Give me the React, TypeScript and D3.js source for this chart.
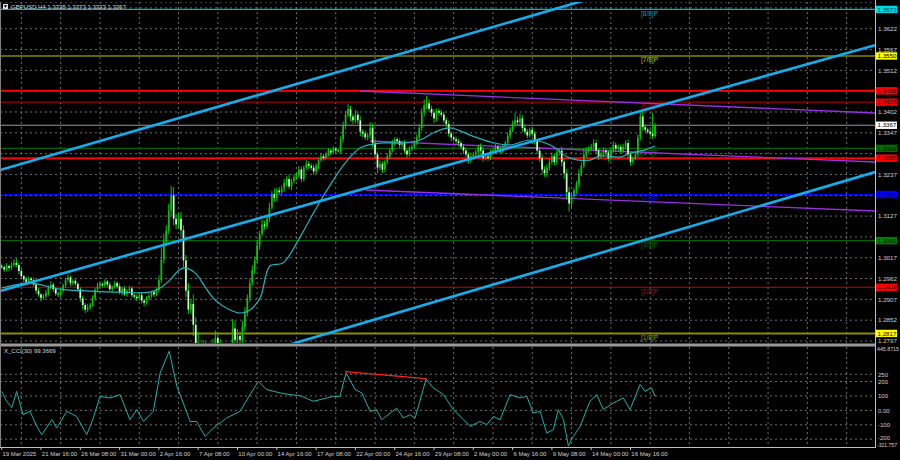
import React from "react";
import * as d3 from "d3";

const W = 900;
const H = 460;
const FONT = "'Liberation Sans', Arial, sans-serif";

const titleText = "GBPUSD,H4  1.3338 1.3373 1.3333 1.3367";
const cciTitle = "X_CCI(30) 99.3669";

const timeLabels = [
  "19 Mar 2025", "21 Mar 16:00", "26 Mar 08:00", "31 Mar 00:00", "2 Apr 16:00", "7 Apr 08:00",
  "10 Apr 00:00", "14 Apr 16:00", "17 Apr 08:00", "22 Apr 00:00", "24 Apr 16:00", "29 Apr 08:00",
  "2 May 00:00", "6 May 16:00", "9 May 08:00", "14 May 00:00", "16 May 16:00",
];
const timeLabelBars = [0, 16, 32, 48, 64, 80, 96, 112, 128, 144, 160, 176, 192, 208, 224, 240, 256];

const priceTicks = [
  1.2797, 1.2852, 1.2907, 1.2962, 1.3017, 1.3072, 1.3127, 1.3182, 1.3237, 1.3292, 1.3347,
  1.3402, 1.3457, 1.3512, 1.3567, 1.3622, 1.3677,
];

const murrayLevels = [1.3673, 1.355, 1.3428, 1.3306, 1.3184, 1.3062, 1.2939, 1.2817];
const murrayNames = ["[8/8]P", "[7/8]P", "[6/8]P", "[5/8]P", "[4/8]P", "[3/8]P", "[2/8]P", "[1/8]P"];
const redLevels = [1.3458, 1.328];
const bidPrice = 1.3367;

const cciTicks = [250, 200, 100, 0, -100, -200];
const cciTickLabels = ["250", "200", "100", "0.00", "-100", "-200"];
const cciMaxLabel = "445.8715";
const cciMinLabel = "-321.757";

const firstOpen = 1.2995;
// H4 closes, 19 Mar 2025 00:00 .. 20 May 2025 08:00
const closes = [
  1.2992, 1.2986, 1.2995, 1.299, 1.2998, 1.3003,
  1.2998, 1.2982, 1.2968, 1.296, 1.2952, 1.2962,
  1.2958, 1.2946, 1.293, 1.292, 1.2911, 1.2915,
  1.2924, 1.2938, 1.2946, 1.2934, 1.2922, 1.292,
  1.293, 1.2944, 1.2958, 1.2965, 1.295, 1.2956,
  1.2948, 1.2934, 1.291, 1.2892, 1.288, 1.2886,
  1.2893, 1.291, 1.2932, 1.2942, 1.2948, 1.2944,
  1.2954, 1.2946, 1.2934, 1.294, 1.295, 1.2941,
  1.2926, 1.2936, 1.2921, 1.293, 1.2936, 1.2918,
  1.2914, 1.291, 1.2918, 1.2904, 1.2898, 1.291,
  1.2916, 1.2926, 1.292, 1.2932, 1.2958, 1.3012,
  1.306, 1.3088, 1.3142, 1.3182, 1.312, 1.3105,
  1.312, 1.309, 1.301, 1.293, 1.288, 1.2895,
  1.284, 1.279, 1.275, 1.273, 1.2775, 1.276,
  1.274, 1.276, 1.278, 1.2805, 1.279, 1.277,
  1.276, 1.274, 1.2725, 1.276, 1.283, 1.28,
  1.281, 1.28, 1.2835, 1.287, 1.291, 1.295,
  1.2985, 1.301, 1.305, 1.308, 1.3105, 1.31,
  1.312, 1.315, 1.3185, 1.3175, 1.3195, 1.319,
  1.32, 1.3215, 1.3225, 1.3205, 1.322, 1.323,
  1.3235, 1.325, 1.3225, 1.3255, 1.3265, 1.326,
  1.3255, 1.3245, 1.326, 1.3275, 1.3285, 1.328,
  1.329, 1.33, 1.3295, 1.3305, 1.33, 1.3298,
  1.333, 1.3365, 1.3395, 1.341, 1.339, 1.338,
  1.3395, 1.338, 1.335, 1.3345, 1.3335, 1.334,
  1.336, 1.332, 1.329, 1.3255, 1.3265, 1.325,
  1.327, 1.3285, 1.33, 1.332, 1.333, 1.3325,
  1.3315, 1.332, 1.33, 1.329, 1.3305, 1.331,
  1.332, 1.3335, 1.336, 1.34, 1.342, 1.3425,
  1.341, 1.34, 1.3385, 1.3405, 1.34, 1.3395,
  1.338, 1.337, 1.3345, 1.3335, 1.333, 1.3325,
  1.332, 1.331, 1.33, 1.329, 1.3275, 1.3285,
  1.329, 1.3295, 1.331, 1.33, 1.328, 1.3285,
  1.328, 1.3295, 1.33, 1.331, 1.3305, 1.33,
  1.331, 1.332, 1.334, 1.3355, 1.337, 1.338,
  1.3375, 1.3385, 1.336, 1.335, 1.334, 1.3355,
  1.3345, 1.3325, 1.33, 1.328, 1.325, 1.324,
  1.3255, 1.327, 1.3285, 1.327, 1.3295, 1.33,
  1.327, 1.324, 1.319, 1.316, 1.318, 1.3195,
  1.321, 1.324, 1.326, 1.329, 1.33, 1.3305,
  1.331, 1.332, 1.33, 1.3285, 1.329, 1.33,
  1.3295, 1.328, 1.33, 1.3315, 1.3305, 1.331,
  1.33, 1.331, 1.332, 1.329, 1.327, 1.328,
  1.329, 1.3335, 1.339, 1.3362, 1.3355, 1.335,
  1.3345, 1.3338, 1.3367,
];
// wick lengths in pips beyond the body
const upperWicks = [
  6, 5, 8, 4, 7, 10, 12, 5, 6, 4, 7, 5, 4, 6, 5, 7, 4, 6, 8, 6, 9, 5, 4, 6,
  7, 5, 6, 8, 4, 5, 6, 4, 5, 7, 6, 8, 5, 8, 6, 9, 7, 4, 6, 5, 7, 4, 6, 5,
  8, 5, 6, 4, 7, 5, 5, 6, 4, 8, 5, 6, 5, 4, 6, 7, 12, 30, 20, 15, 18, 25, 22, 12,
  15, 18, 12, 14, 20, 10, 25, 20, 30, 18, 25, 20, 15, 18, 22, 20, 16, 12, 14, 10, 12, 18, 25, 20,
  18, 12, 15, 16, 10, 12, 12, 10, 14, 8, 12, 10, 10, 12, 8, 15, 7, 9, 8, 10, 7, 12, 6, 8,
  7, 9, 8, 6, 10, 7, 6, 8, 7, 5, 9, 6, 5, 7, 4, 6, 5, 4, 8, 12, 10, 14, 8, 7,
  12, 9, 10, 6, 8, 7, 15, 12, 10, 8, 9, 7, 6, 8, 7, 9, 5, 6, 7, 6, 8, 5, 7, 6,
  6, 8, 9, 12, 15, 20, 10, 8, 9, 6, 7, 8, 8, 7, 9, 6, 5, 7, 6, 5, 7, 8, 6, 5,
  7, 8, 6, 9, 10, 5, 6, 7, 5, 8, 6, 5, 5, 6, 8, 7, 9, 20, 10, 12, 8, 9, 7, 6,
  8, 7, 6, 9, 10, 8, 9, 8, 10, 7, 12, 6, 10, 8, 12, 14, 9, 7, 10, 12, 8, 15, 9, 7,
  8, 10, 9, 6, 7, 8, 7, 6, 8, 9, 7, 6, 6, 8, 7, 9, 6, 5, 5, 8, 10, 12, 7, 6,
  8, 55, 6,
];
const lowerWicks = [
  5, 7, 4, 8, 6, 5, 6, 8, 7, 9, 5, 6, 7, 5, 8, 6, 9, 5, 5, 7, 4, 8, 6, 7,
  6, 5, 7, 4, 8, 6, 7, 8, 10, 12, 9, 6, 8, 5, 7, 4, 6, 5, 5, 7, 6, 8, 4, 6,
  6, 8, 5, 7, 4, 6, 5, 7, 6, 8, 9, 5, 6, 5, 7, 4, 6, 8, 10, 12, 8, 15, 18, 12,
  10, 15, 20, 18, 12, 10, 30, 25, 20, 22, 15, 18, 20, 15, 12, 16, 14, 18, 15, 20, 18, 12, 16, 14,
  12, 15, 10, 12, 8, 9, 8, 10, 7, 12, 6, 9, 7, 9, 6, 10, 8, 7, 6, 8, 9, 7, 10, 6,
  8, 6, 9, 7, 5, 8, 7, 9, 6, 8, 5, 7, 4, 5, 6, 4, 5, 3, 6, 8, 9, 7, 12, 10,
  8, 10, 12, 9, 7, 8, 9, 12, 10, 15, 8, 9, 7, 6, 8, 5, 7, 6, 8, 6, 7, 9, 5, 6,
  5, 6, 7, 8, 9, 10, 9, 10, 12, 7, 8, 6, 7, 9, 8, 10, 6, 7, 8, 7, 9, 6, 10, 7,
  6, 7, 8, 5, 9, 6, 7, 5, 6, 8, 6, 7, 6, 5, 7, 8, 6, 7, 8, 9, 10, 7, 8, 6,
  7, 9, 8, 10, 12, 9, 10, 8, 7, 9, 6, 8, 12, 15, 20, 22, 10, 8, 9, 10, 8, 7, 9, 6,
  7, 8, 9, 10, 6, 7, 8, 9, 7, 6, 8, 7, 7, 6, 8, 9, 10, 7, 6, 7, 8, 9, 7, 6,
  8, 7, 5,
];

// moving average: bar index, price
const maBars = [0, 11.5, 23.7, 36, 48.2, 60.4, 64.5, 68.5, 71.8, 74.2, 78.7, 82.8, 86.9, 93, 97, 101.1, 105.2, 109.2, 114.5, 121.5, 127.6, 133.7, 139.8, 145.9, 154, 162.2, 170.3, 176.4, 182.5, 190.7, 198.8, 207, 215.1, 223.3, 231.4, 239.5, 243.6, 251.8, 255.8, 261.9, 266];
const maVals = [1.2937, 1.295, 1.2934, 1.2929, 1.2926, 1.2926, 1.2937, 1.2958, 1.2982, 1.299, 1.2977, 1.294, 1.2905, 1.2879, 1.2871, 1.2879, 1.2911, 1.2995, 1.3003, 1.3072, 1.3143, 1.3209, 1.3267, 1.3307, 1.332, 1.332, 1.3328, 1.3349, 1.336, 1.3341, 1.3323, 1.3315, 1.3328, 1.3315, 1.328, 1.3275, 1.3286, 1.3283, 1.3293, 1.3302, 1.3312];

// CCI(30)
const cciBars = [0, 2, 4.1, 6.1, 8.7, 11.5, 14.3, 16.3, 20.4, 22.4, 26.5, 30.5, 34.6, 37.3, 40, 44.1, 48.2, 52.2, 55, 57.7, 61.7, 64.5, 68.2, 71.3, 73.9, 76.7, 79.4, 82.8, 86.2, 91.6, 97, 101.1, 104.5, 107.9, 113.3, 117.4, 121.5, 126.9, 135, 137.7, 140.2, 143.9, 146.6, 150, 152.7, 154.7, 160.8, 163.5, 166.2, 168.3, 172.8, 175.7, 179.8, 183.9, 188, 190.7, 194.7, 197.5, 200.2, 202.9, 207, 211, 213.8, 216.4, 219.2, 221.9, 224.6, 226.6, 228.7, 230.7, 232.7, 235.5, 239.5, 242.3, 244.9, 249, 253.1, 255.8, 259.9, 261.9, 264.5, 266];
const cciVals = [132, 63, 19, 132, -30, -7, -111, -169, -65, -122, -7, -42, -169, -53, 97, 86, 109, -65, 5, -77, -7, 260, 410, 167, 51, -77, -77, -181, -122, -53, -7, 109, 202, 144, 121, 109, 102, 63, 97, 97, 260, 144, 121, -7, 5, -65, 16, -53, -30, -53, 218, 156, 109, 5, -65, -111, -77, -99, -42, -65, 109, 86, 97, -18, -7, -157, -134, 5, -65, -245, -181, -111, 63, 109, 5, 51, 86, 5, 179, 132, 156, 97];

// trend lines: [bar, price] anchors
const blueLines = [
  [[0, 1.32501], [235, 1.36926]],
  [[0, 1.29304], [300, 1.34773]],
  [[119.4, 1.27917], [355.6, 1.32435]],
];
const purpleLines = [
  [[145.9, 1.34575], [355.6, 1.33994]],
  [[150, 1.33254], [355.6, 1.32699]],
  [[148, 1.31959], [355.6, 1.31404]],
];
const cciDivergence = [[139.8, 269], [172.8, 220]];

// styles
const murrayColors = ["#00b4c8", "#c8c800", "#a00000", "#006400", "#0000ff", "#006400", "#d00000", "#8c8c00"];
const murrayLabelColors = ["#00a0b4", "#c8c000", "#a00000", "#008000", "#0000d0", "#007000", "#d00000", "#a0a000"];
const axisBoxes = [
  { p: 1.3673, bg: "#00d8e8", fg: "#003040" },
  { p: 1.355, bg: "#ffff00", fg: "#000000" },
  { p: 1.3458, bg: "#ff0000", fg: "#200000" },
  { p: 1.3428, bg: "#f00000", fg: "#200000" },
  { p: 1.3367, bg: "#ffffff", fg: "#000000" },
  { p: 1.3306, bg: "#006a00", fg: "#001800" },
  { p: 1.328, bg: "#ff0000", fg: "#200000" },
  { p: 1.3184, bg: "#0000ff", fg: "#000040" },
  { p: 1.3062, bg: "#008000", fg: "#001800" },
  { p: 1.2939, bg: "#ff0000", fg: "#200000" },
  { p: 1.2817, bg: "#ffff00", fg: "#000000" },
];

const PLOT_R = 875;
const MAIN_T = 2;
const MAIN_B = 343;
const CCI_T = 347;
const CCI_B = 447;

export default function App() {
  React.useEffect(() => {
    document.body.style.margin = "0";
    document.body.style.background = "#000";
  }, []);

  const x = d3.scaleLinear().domain([0, 16]).range([1.7, 1.7 + 39.3]);
  const y = d3.scaleLinear().domain([1.2797, 1.3402]).range([341, 112]);
  const yc = d3.scaleLinear().domain([-200, 250]).range([439.2, 374.3]);

  const xLeft = x.invert(0);
  const xRight = x.invert(PLOT_R);

  const candles = closes.map((c, i) => {
    const o = i === 0 ? firstOpen : closes[i - 1];
    const h = Math.max(o, c) + upperWicks[i] / 10000;
    const l = Math.min(o, c) - lowerWicks[i] / 10000;
    return { i, o, h, l, c };
  });

  const gridXs: number[] = [];
  for (let k = 0; k < 23; k++) gridXs.push(x(timeLabelBars[0] + 8 + 16 * k));

  const extLine = (a: number[], b: number[], b0: number, b1: number) => {
    const s = (b[1] - a[1]) / (b[0] - a[0]);
    return [
      [x(b0), y(a[1] + s * (b0 - a[0]))],
      [x(b1), y(a[1] + s * (b1 - a[0]))],
    ];
  };

  const maLine = d3
    .line<number>()
    .x((_, i) => x(maBars[i]))
    .y((d) => y(d))
    .curve(d3.curveCatmullRom.alpha(0.5));
  const cciLine = d3
    .line<number>()
    .x((_, i) => x(cciBars[i]))
    .y((d) => yc(d));

  const tick = (p: number) => p.toFixed(4);
  const visibleTicks = priceTicks.filter((p) => !axisBoxes.some((b) => Math.abs(y(b.p) - y(p)) < 6));

  return (
    <svg
      width={W}
      height={H}
      style={{ position: "fixed", left: 0, top: 0, background: "#000", fontFamily: FONT }}
    >
      <defs>
        <clipPath id="mainClip">
          <rect x={0} y={MAIN_T} width={PLOT_R} height={MAIN_B - MAIN_T} />
        </clipPath>
        <clipPath id="cciClip">
          <rect x={0} y={CCI_T} width={PLOT_R} height={CCI_B - CCI_T} />
        </clipPath>
      </defs>
      <rect x={0} y={0} width={W} height={H} fill="#000" />

      {/* main panel */}
      <g clipPath="url(#mainClip)">
        {gridXs.map((gx, k) => (
          <line key={"gx" + k} x1={gx} x2={gx} y1={MAIN_T} y2={MAIN_B} stroke="#8a8a8a" strokeWidth={0.8} strokeDasharray="2,3" />
        ))}
        {priceTicks.map((p) => (
          <line key={"gy" + p} x1={0} x2={PLOT_R} y1={y(p)} y2={y(p)} stroke="#8a8a8a" strokeWidth={0.8} strokeDasharray="2,3" />
        ))}
        <line x1={0} x2={PLOT_R} y1={MAIN_T} y2={MAIN_T} stroke="#8a8a8a" strokeWidth={0.8} strokeDasharray="2,3" />

        {/* murray levels */}
        {murrayLevels.map((p, k) => (
          <line
            key={"m" + k}
            x1={0}
            x2={PLOT_R}
            y1={y(p)}
            y2={y(p)}
            stroke={murrayColors[k]}
            strokeWidth={k === 7 ? 2 : 1.2}
            strokeDasharray={k === 4 ? "3,1" : undefined}
          />
        ))}
        {murrayLevels.map((p, k) => (
          <text key={"ml" + k} x={641} y={y(p) + 6.5} fontSize={6.5} fill={murrayLabelColors[k]}>
            {murrayNames[k]}
          </text>
        ))}
        {redLevels.map((p) => (
          <line key={"r" + p} x1={0} x2={PLOT_R} y1={y(p)} y2={y(p)} stroke="#ff0000" strokeWidth={2} />
        ))}
        <line x1={0} x2={PLOT_R} y1={y(bidPrice)} y2={y(bidPrice)} stroke="#9a9a9a" strokeWidth={1} />

        {/* purple channel */}
        {purpleLines.map((ln, k) => {
          const [[x1, y1], [x2, y2]] = extLine(ln[0], ln[1], ln[0][0], xRight);
          return <line key={"pl" + k} x1={x1} y1={y1} x2={x2} y2={y2} stroke="#9a30e0" strokeWidth={1.3} />;
        })}

        {/* candles */}
        {candles.map((d) => {
          const cx = x(d.i);
          const bull = d.c >= d.o;
          const top = y(Math.max(d.o, d.c));
          const bh = Math.max(0.8, Math.abs(y(d.o) - y(d.c)));
          return (
            <g key={"c" + d.i}>
              <line x1={cx} x2={cx} y1={y(d.h)} y2={y(d.l)} stroke="#00e000" strokeWidth={0.9} />
              <rect x={cx - 0.85} y={top} width={1.7} height={bh} fill={bull ? "#10c010" : "#c8ffc8"} />
            </g>
          );
        })}

        {/* moving average */}
        <path d={maLine(maVals) || ""} fill="none" stroke="#20b4c0" strokeWidth={1.2} />

        {/* blue channel */}
        {blueLines.map((ln, k) => {
          const [[x1, y1], [x2, y2]] = extLine(ln[0], ln[1], xLeft, xRight);
          return <line key={"bl" + k} x1={x1} y1={y1} x2={x2} y2={y2} stroke="#10b0f0" strokeWidth={2.6} />;
        })}
      </g>

      {/* title */}
      <rect x={3} y={4} width={5} height={5} fill="#e0e0e0" />
      <path d="M3.8,5.2 L7.2,5.2 L5.5,7.8 Z" fill="#000" />
      <text x={11} y={9} fontSize={6} fill="#d8d8d8">
        {titleText}
      </text>

      {/* separators */}
      <rect x={0} y={343.5} width={PLOT_R + 1} height={3} fill="#9a9a9a" />
      <line x1={PLOT_R + 0.5} x2={PLOT_R + 0.5} y1={0} y2={CCI_B} stroke="#c0c0c0" strokeWidth={1} />
      <line x1={0} x2={PLOT_R + 1} y1={CCI_B + 0.5} y2={CCI_B + 0.5} stroke="#c0c0c0" strokeWidth={1} />
      <line x1={0.5} x2={0.5} y1={MAIN_T} y2={CCI_B} stroke="#808080" strokeWidth={1} />

      {/* CCI panel */}
      <g clipPath="url(#cciClip)">
        {gridXs.map((gx, k) => (
          <line key={"cgx" + k} x1={gx} x2={gx} y1={CCI_T} y2={CCI_B} stroke="#8a8a8a" strokeWidth={0.8} strokeDasharray="2,3" />
        ))}
        {cciTicks.map((v) => (
          <line key={"cgy" + v} x1={0} x2={PLOT_R} y1={yc(v)} y2={yc(v)} stroke="#8a8a8a" strokeWidth={0.8} strokeDasharray="2,3" />
        ))}
        <path d={cciLine(cciVals) || ""} fill="none" stroke="#20b0a8" strokeWidth={1} />
        <line
          x1={x(cciDivergence[0][0])}
          y1={yc(cciDivergence[0][1])}
          x2={x(cciDivergence[1][0])}
          y2={yc(cciDivergence[1][1])}
          stroke="#ff2020"
          strokeWidth={1.3}
        />
      </g>
      <text x={4} y={353} fontSize={6} fill="#d8d8d8">
        {cciTitle}
      </text>

      {/* price axis */}
      {visibleTicks.map((p) => (
        <text key={"pt" + p} x={878} y={y(p) + 2.2} fontSize={6.2} fill="#d0d0d0">
          {tick(p)}
        </text>
      ))}
      {axisBoxes.map((b) => (
        <g key={"ab" + b.p}>
          <rect x={876} y={y(b.p) - 3.7} width={21} height={7.4} fill={b.bg} />
          <text x={877.5} y={y(b.p) + 2.2} fontSize={6.2} fill={b.fg}>
            {tick(b.p)}
          </text>
        </g>
      ))}

      {/* cci axis */}
      <text x={877} y={yc(445.87) + 4.5} fontSize={5.6} fill="#d0d0d0" textLength={22} lengthAdjust="spacingAndGlyphs">
        {cciMaxLabel}
      </text>
      {cciTicks.map((v, k) => (
        <text key={"ct" + v} x={878} y={v === -200 ? yc(v) + 1 : yc(v) + 2.2} fontSize={6} fill="#d0d0d0">
          {cciTickLabels[k]}
        </text>
      ))}
      <text x={877} y={446.5} fontSize={5} fill="#d0d0d0" textLength={20} lengthAdjust="spacingAndGlyphs">
        {cciMinLabel}
      </text>

      {/* time axis */}
      {timeLabelBars.map((b, k) => (
        <g key={"tl" + b}>
          <line x1={x(b)} x2={x(b)} y1={CCI_B} y2={CCI_B + 3} stroke="#c0c0c0" strokeWidth={1} />
          <text x={x(b) + 0.8} y={456} fontSize={6} fill="#d0d0d0">
            {timeLabels[k]}
          </text>
        </g>
      ))}
    </svg>
  );
}
